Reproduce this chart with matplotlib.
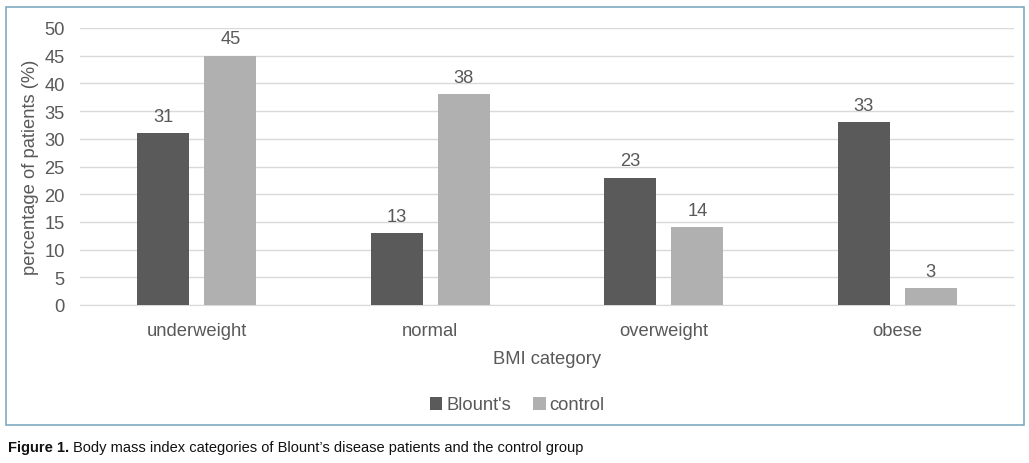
import numpy as np
import matplotlib.pyplot as plt
from matplotlib.patches import Rectangle

categories = ["underweight", "normal", "overweight", "obese"]
blounts = [31, 13, 23, 33]
control = [45, 38, 14, 3]
yticks = [0, 5, 10, 15, 20, 25, 30, 35, 40, 45, 50]

plt.rcParams['font.family'] = ['Liberation Sans', 'DejaVu Sans']
txt = '#595959'
fs = 13.2

W, H = 1029, 464
fig = plt.figure(figsize=(W / 100, H / 100), dpi=100)
ax = fig.add_axes([80 / W, (H - 306) / H, 934 / W, 277 / H])

x = np.arange(len(categories))
bw = 0.223
off = 0.1435
b1 = ax.bar(x - off, blounts, bw, color='#5a5a5a', label="Blount's", zorder=3)
b2 = ax.bar(x + off, control, bw, color='#b0b0b0', label='control', zorder=3)

for bars in (b1, b2):
    for r in bars:
        ax.annotate(str(int(r.get_height())), (r.get_x() + r.get_width() / 2, r.get_height()),
                    xytext=(0, 6), textcoords='offset points', ha='center', va='bottom',
                    fontsize=fs, color=txt)

ax.set_xlim(-0.5, 3.5)
ax.set_ylim(0, 50)
ax.set_yticks(yticks)
ax.set_xticks(x)
ax.set_xticklabels(categories)
ax.yaxis.grid(True, color='#d9d9d9', linewidth=1, zorder=0)
for s in ['top', 'right', 'left']:
    ax.spines[s].set_visible(False)
ax.spines['bottom'].set_color('#d9d9d9')
ax.tick_params(axis='both', length=0, labelsize=fs, labelcolor=txt)
ax.tick_params(axis='x', pad=12)
ax.tick_params(axis='y', pad=11)
ax.set_ylabel('percentage of patients (%)', fontsize=fs, color=txt, labelpad=4)
ax.set_xlabel('BMI category', fontsize=fs, color=txt, labelpad=8)

fig.legend(loc='center', bbox_to_anchor=(517 / W, (H - 406) / H), ncol=2, frameon=False,
           fontsize=fs, labelcolor=txt, handlelength=0.7, handleheight=0.7,
           handletextpad=0.2, columnspacing=1.2)

fig.patches.append(Rectangle((6 / W, (H - 426) / H), 1018 / W, 418 / H, transform=fig.transFigure,
                             fill=False, edgecolor='#7fa9c0', linewidth=1.2))

t1 = fig.text(8 / W, (H - 448) / H, 'Figure 1.', fontsize=10.5, fontweight='bold', va='center', color='#111111')
fig.canvas.draw()
bb = t1.get_window_extent()
fig.text((bb.x1 + 4) / W, (H - 448) / H, "Body mass index categories of Blount\u2019s disease patients and the control group",
         fontsize=10.5, va='center', color='#111111')

fig.savefig('out.png', dpi=100)
